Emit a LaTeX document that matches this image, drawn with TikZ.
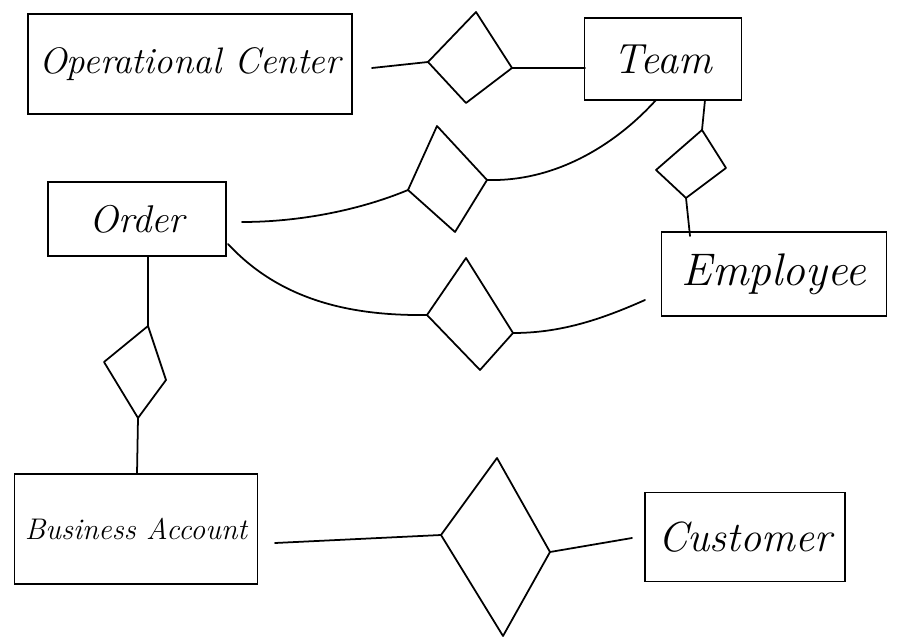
\documentclass[tikz,border=0pt]{standalone}
\begin{document}
\begin{tikzpicture}[x=0.02cm,y=-0.02cm,
  box/.style={draw, line width=1pt, inner sep=0pt, font=\itshape},
  link/.style={draw, line width=1pt, line cap=round, line join=round},
  rel/.style={draw, line width=1pt, line join=round}]
\useasboundingbox[fill=white] (0,0) rectangle (901,644);

% entities
\node[box, minimum width=6.48cm, minimum height=2.0cm, font=\itshape\fontsize{21}{25}\selectfont] (oc) at (190,64) {Operational Center};
\node[box, minimum width=3.14cm, minimum height=1.64cm, font=\itshape\fontsize{24}{28}\selectfont] (team) at (663,59) {Team};
\node[box, minimum width=3.56cm, minimum height=1.48cm, font=\itshape\fontsize{22}{26}\selectfont] (order) at (137,219) {Order};
\node[box, minimum width=4.5cm, minimum height=1.68cm, font=\itshape\fontsize{26}{30}\selectfont] (emp) at (774,274) {Employee};
\node[box, minimum width=4.86cm, minimum height=2.2cm, font=\itshape\fontsize{17}{21}\selectfont] (ba) at (136,529) {Business Account};
\node[box, minimum width=4.0cm, minimum height=1.78cm, font=\itshape\fontsize{24}{28}\selectfont] (cust) at (745,537) {Customer};

% relationship diamonds (vertices)
\coordinate (d1l) at (428,62);  \coordinate (d1t) at (476,12);  \coordinate (d1r) at (512,68);  \coordinate (d1b) at (466,103);
\coordinate (d2l) at (408,190); \coordinate (d2t) at (437,126); \coordinate (d2r) at (487,180); \coordinate (d2b) at (455,232);
\coordinate (d3l) at (656,170); \coordinate (d3t) at (702,130); \coordinate (d3r) at (726,168); \coordinate (d3b) at (686,198);
\coordinate (d4l) at (427,315); \coordinate (d4t) at (466,258); \coordinate (d4r) at (513,333); \coordinate (d4b) at (480,370);
\coordinate (d5l) at (104,362); \coordinate (d5t) at (148,326); \coordinate (d5r) at (166,380); \coordinate (d5b) at (138,418);
\coordinate (d6l) at (441,535); \coordinate (d6t) at (497,458); \coordinate (d6r) at (550,552); \coordinate (d6b) at (503,636);

\foreach \d in {d1,d2,d3,d4,d5,d6}
  \draw[rel] (\d l) -- (\d t) -- (\d r) -- (\d b) -- cycle;

% connector free ends
\coordinate (ocE) at (372,68);
\coordinate (teamW) at (585,68);
\coordinate (orderE) at (242,222);
\coordinate (teamS1) at (656,100);
\coordinate (teamS2) at (705,100);
\coordinate (empN) at (690,236);
\coordinate (orderSE) at (228,244);
\coordinate (empW) at (645,300);
\coordinate (orderS) at (148,256);
\coordinate (baN) at (137,474);
\coordinate (baE) at (275,543);
\coordinate (custW) at (632,538);

% connectors
\draw[link] (ocE) -- (d1l);
\draw[link] (d1r) -- (teamW);
\draw[link] (orderE) .. controls (300,222) and (360,210) .. (d2l);
\draw[link] (d2r) .. controls (560,182) and (620,140) .. (teamS1);
\draw[link] (teamS2) -- (d3t);
\draw[link] (d3b) -- (empN);
\draw[link] (orderSE) .. controls (280,300) and (350,316) .. (d4l);
\draw[link] (d4r) .. controls (560,333) and (600,320) .. (empW);
\draw[link] (orderS) -- (d5t);
\draw[link] (d5b) -- (baN);
\draw[link] (baE) -- (d6l);
\draw[link] (d6r) -- (custW);
\end{tikzpicture}
\end{document}
